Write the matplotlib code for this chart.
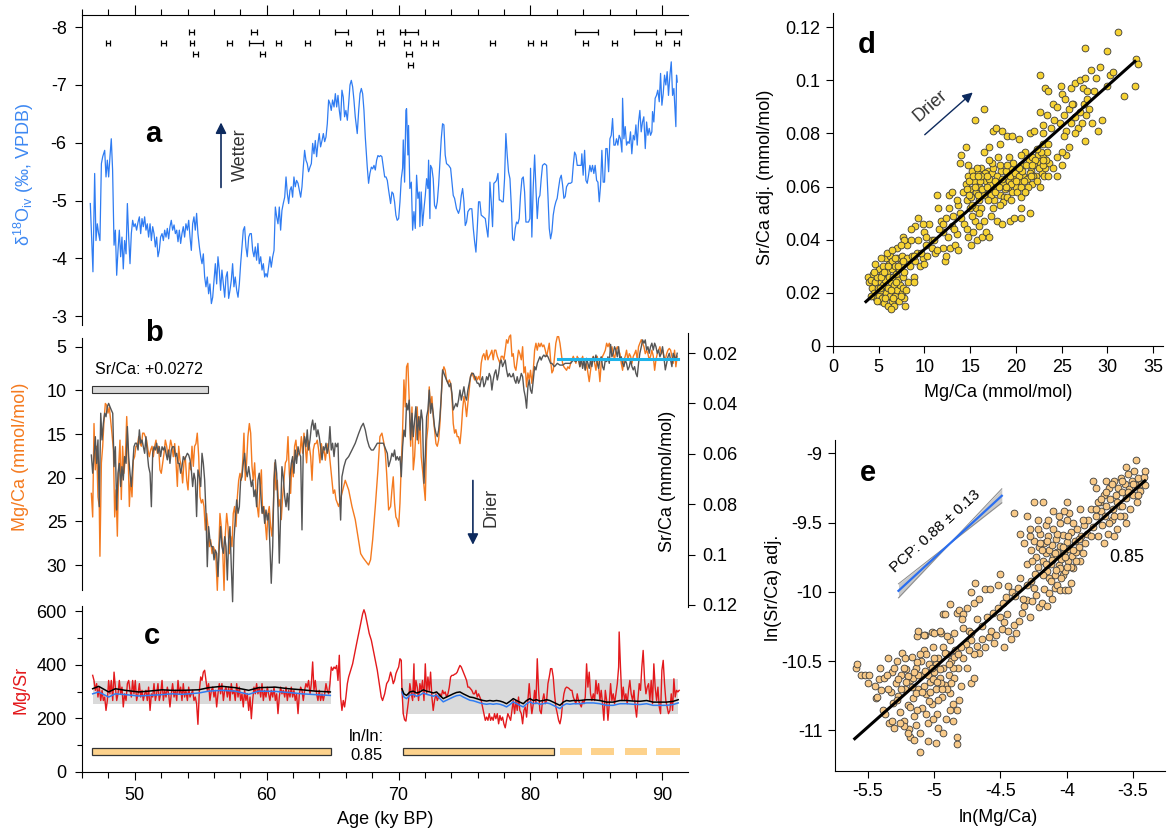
import numpy as np
import matplotlib
matplotlib.use("Agg")
import matplotlib.pyplot as plt
from matplotlib.patches import Rectangle
from matplotlib.ticker import MultipleLocator, FuncFormatter

plt.rcParams['font.family'] = ['Liberation Sans', 'DejaVu Sans']
plt.rcParams['axes.unicode_minus'] = False
plt.rcParams['mathtext.fontset'] = 'custom'
plt.rcParams['mathtext.rm'] = 'Liberation Sans'
plt.rcParams['mathtext.it'] = 'Liberation Sans:italic'
plt.rcParams['mathtext.bf'] = 'Liberation Sans:bold'

# ---------------- data ----------------
# (a) speleothem d18O record: (age ky BP, permil VPDB)
d18o_record = [
    (46.63, -4.95), (46.83, -3.77), (46.96, -5.47), (47.06, -4.31), (47.16, -4.60), (47.26, -4.43), (47.36, -4.31), (47.47, -5.64), (47.57, -5.76), (47.72, -5.87),
    (47.82, -5.41), (47.92, -5.70), (48.02, -5.41), (48.12, -5.76), (48.22, -6.07), (48.32, -5.53), (48.43, -4.23), (48.53, -4.49), (48.63, -3.71), (48.73, -4.14),
    (48.83, -4.49), (48.93, -4.03), (49.03, -4.37), (49.13, -3.82), (49.23, -4.31), (49.34, -4.08), (49.44, -4.95), (49.54, -4.37), (49.64, -3.91), (49.74, -4.43),
    (49.84, -4.66), (49.94, -4.55), (50.04, -4.60), (50.14, -4.49), (50.25, -4.63), (50.35, -4.72), (50.45, -4.43), (50.55, -4.69), (50.65, -4.55), (50.75, -4.72),
    (50.85, -4.49), (50.95, -4.60), (51.05, -4.37), (51.16, -4.60), (51.26, -4.31), (51.36, -4.55), (51.46, -4.43), (51.56, -4.20), (51.66, -4.37), (51.76, -4.03),
    (51.86, -4.14), (51.96, -4.37), (52.07, -4.43), (52.17, -4.31), (52.27, -4.49), (52.37, -4.37), (52.47, -4.52), (52.57, -4.34), (52.67, -4.55), (52.77, -4.66),
    (52.87, -4.49), (52.98, -4.58), (53.08, -4.43), (53.18, -4.49), (53.28, -4.29), (53.38, -4.49), (53.48, -4.26), (53.58, -4.43), (53.68, -4.55), (53.78, -4.37),
    (53.88, -4.60), (53.99, -4.49), (54.09, -4.66), (54.19, -4.37), (54.29, -4.14), (54.39, -4.60), (54.49, -4.72), (54.59, -4.49), (54.69, -4.78), (54.79, -4.43),
    (54.90, -4.20), (55.00, -4.03), (55.10, -3.91), (55.20, -4.08), (55.30, -3.68), (55.40, -3.51), (55.50, -3.68), (55.60, -3.39), (55.70, -3.56), (55.81, -3.22),
    (55.91, -3.33), (56.01, -3.62), (56.11, -3.91), (56.21, -3.56), (56.31, -4.03), (56.41, -3.80), (56.51, -3.45), (56.61, -3.80), (56.72, -3.56), (56.82, -3.33),
    (56.92, -3.68), (57.02, -3.77), (57.12, -3.31), (57.22, -3.45), (57.32, -3.62), (57.42, -3.91), (57.52, -3.51), (57.62, -3.68), (57.73, -3.45), (57.83, -3.33),
    (57.93, -3.56), (58.03, -3.91), (58.13, -4.20), (58.23, -4.49), (58.33, -4.55), (58.43, -4.20), (58.53, -4.03), (58.64, -4.37), (58.74, -4.43), (58.84, -4.43),
    (58.94, -4.14), (59.04, -4.03), (59.14, -4.20), (59.24, -3.97), (59.34, -4.26), (59.44, -3.91), (59.55, -4.03), (59.65, -3.80), (59.75, -3.91), (59.85, -3.68),
    (59.95, -3.74), (60.05, -3.68), (60.15, -3.85), (60.25, -4.03), (60.35, -3.85), (60.46, -4.03), (60.56, -4.14), (60.66, -4.89), (60.76, -4.72), (60.86, -4.60),
    (60.96, -4.89), (61.06, -4.49), (61.16, -4.83), (61.26, -4.95), (61.37, -5.06), (61.47, -5.41), (61.57, -5.12), (61.67, -4.95), (61.77, -5.18), (61.87, -5.24),
    (61.97, -5.06), (62.07, -5.41), (62.17, -5.24), (62.27, -5.35), (62.38, -5.30), (62.48, -5.18), (62.58, -5.06), (62.68, -5.24), (62.78, -5.58), (62.88, -5.87),
    (62.98, -5.70), (63.08, -5.64), (63.18, -5.50), (63.29, -5.58), (63.39, -5.64), (63.49, -5.99), (63.59, -5.81), (63.69, -6.04), (63.79, -5.76), (63.89, -5.99),
    (63.99, -6.16), (64.09, -5.93), (64.20, -6.04), (64.30, -6.16), (64.40, -6.02), (64.50, -6.10), (64.60, -6.33), (64.70, -6.74), (64.80, -6.68), (64.90, -6.56),
    (65.00, -6.74), (65.11, -6.62), (65.21, -6.85), (65.31, -6.62), (65.41, -6.82), (65.51, -6.56), (65.61, -6.39), (65.71, -6.91), (65.81, -6.79), (65.91, -6.45),
    (66.01, -6.56), (66.12, -6.39), (66.22, -6.68), (66.32, -7.00), (66.42, -7.08), (66.52, -6.97), (66.62, -6.74), (66.72, -6.45), (66.87, -6.16), (66.98, -6.56),
    (67.08, -6.85), (67.18, -6.94), (67.28, -6.85), (67.38, -6.56), (67.48, -6.10), (67.63, -5.58), (67.73, -5.30), (67.83, -5.47), (67.94, -5.58), (68.04, -5.55),
    (68.14, -5.61), (68.24, -5.53), (68.34, -5.70), (68.44, -5.78), (68.54, -5.76), (68.64, -5.78), (68.74, -5.76), (68.85, -5.58), (68.95, -5.41), (69.05, -5.41),
    (69.15, -5.35), (69.25, -5.18), (69.40, -4.95), (69.50, -5.15), (69.60, -5.12), (69.70, -4.98), (69.80, -4.75), (69.90, -4.66), (70.01, -4.69), (70.11, -4.98),
    (70.21, -5.38), (70.31, -5.56), (70.36, -6.05), (70.46, -5.32), (70.56, -6.56), (70.61, -6.59), (70.71, -5.79), (70.76, -6.30), (70.86, -5.21), (70.97, -5.32),
    (71.07, -4.49), (71.17, -4.81), (71.27, -4.52), (71.37, -5.44), (71.47, -5.04), (71.57, -5.15), (71.62, -4.55), (71.72, -5.15), (71.82, -4.57), (71.93, -4.86),
    (72.03, -5.09), (72.13, -5.38), (72.23, -5.21), (72.28, -5.70), (72.38, -4.69), (72.43, -5.61), (72.53, -5.56), (72.63, -5.38), (72.73, -4.92), (72.84, -4.86),
    (72.94, -4.98), (73.04, -5.27), (73.14, -5.67), (73.24, -6.07), (73.34, -6.33), (73.44, -6.31), (73.54, -5.79), (73.64, -5.64), (73.80, -5.61), (73.95, -5.56),
    (74.05, -5.32), (74.15, -5.09), (74.25, -5.04), (74.40, -4.86), (74.55, -4.78), (74.65, -4.86), (74.76, -5.09), (74.86, -5.21), (74.96, -4.98), (75.06, -4.57),
    (75.16, -4.63), (75.26, -4.81), (75.41, -4.86), (75.56, -4.86), (75.67, -4.52), (75.77, -4.29), (75.87, -4.11), (75.97, -4.52), (76.07, -4.98), (76.17, -4.98),
    (76.27, -4.75), (76.42, -4.72), (76.58, -4.69), (76.68, -4.52), (76.78, -4.37), (76.88, -4.81), (76.93, -5.32), (77.03, -4.98), (77.13, -4.55), (77.23, -5.30),
    (77.33, -5.32), (77.43, -5.35), (77.54, -5.47), (77.64, -5.01), (77.74, -5.01), (77.84, -4.98), (77.94, -4.98), (78.04, -5.38), (78.14, -6.16), (78.24, -5.79),
    (78.34, -5.50), (78.45, -5.38), (78.55, -4.92), (78.65, -4.34), (78.75, -4.31), (78.85, -4.52), (78.95, -4.63), (79.05, -4.60), (79.15, -4.69), (79.25, -5.09),
    (79.36, -5.38), (79.46, -5.41), (79.56, -5.15), (79.66, -4.63), (79.76, -4.63), (79.86, -4.63), (79.96, -4.69), (80.01, -5.56), (80.11, -4.37), (80.21, -5.21),
    (80.32, -5.79), (80.42, -5.21), (80.52, -4.69), (80.62, -5.04), (80.72, -5.09), (80.82, -5.38), (80.92, -5.61), (81.07, -5.64), (81.23, -5.61), (81.33, -5.09),
    (81.43, -4.52), (81.53, -4.34), (81.63, -4.46), (81.73, -4.75), (81.83, -4.89), (81.93, -4.98), (82.03, -5.04), (82.13, -5.21), (82.24, -5.38), (82.34, -5.44),
    (82.44, -5.27), (82.54, -5.04), (82.64, -5.07), (82.74, -5.24), (82.89, -5.30), (83.04, -5.30), (83.15, -5.32), (83.25, -5.61), (83.35, -5.84), (83.45, -5.79),
    (83.55, -5.61), (83.65, -5.61), (83.75, -5.61), (83.85, -5.61), (83.90, -5.81), (84.00, -5.44), (84.11, -5.87), (84.21, -5.35), (84.31, -5.30), (84.41, -5.44),
    (84.51, -5.61), (84.61, -5.50), (84.71, -5.61), (84.81, -5.47), (84.91, -5.61), (85.02, -5.35), (85.12, -5.32), (85.22, -4.98), (85.32, -5.27), (85.42, -5.87),
    (85.52, -5.32), (85.62, -5.32), (85.72, -5.90), (85.82, -5.90), (85.93, -5.50), (86.03, -6.07), (86.13, -6.13), (86.23, -6.42), (86.33, -5.96), (86.43, -5.96),
    (86.53, -6.07), (86.63, -5.96), (86.73, -6.13), (86.83, -6.07), (86.94, -5.84), (86.99, -6.77), (87.09, -6.07), (87.19, -6.28), (87.29, -5.96), (87.39, -6.02),
    (87.49, -5.99), (87.59, -6.19), (87.69, -5.81), (87.80, -6.13), (87.90, -6.05), (88.00, -6.31), (88.10, -5.96), (88.20, -6.36), (88.30, -6.56), (88.40, -6.19),
    (88.50, -6.36), (88.60, -6.45), (88.71, -5.90), (88.81, -6.36), (88.91, -6.13), (89.01, -6.25), (89.11, -6.13), (89.21, -6.19), (89.26, -6.54), (89.36, -6.36),
    (89.46, -6.77), (89.56, -6.82), (89.66, -6.91), (89.77, -6.71), (89.87, -7.20), (89.97, -6.65), (90.07, -6.85), (90.17, -7.17), (90.27, -7.00), (90.37, -7.23),
    (90.47, -6.82), (90.58, -7.17), (90.68, -7.40), (90.78, -6.82), (90.88, -6.94), (90.98, -6.48), (91.03, -6.28), (91.08, -7.17), (91.13, -7.05),
]

# (a) U-Th age controls: rows of (age, 2-sigma error)
agectl_row_level = [-7.91, -7.72, -7.53, -7.34]
agectl_row1 = [(54.3, 0.2), (59.05, 0.2), (65.65, 0.5), (68.6, 0.2), (70.3, 0.2), (71.0, 0.5), (84.25, 0.85), (88.7, 0.85), (90.8, 0.6)]
agectl_row2 = [(48.0, 0.15), (52.2, 0.2), (54.35, 0.15), (57.2, 0.2), (59.2, 0.5), (60.9, 0.2), (63.1, 0.2), (66.2, 0.2), (68.7, 0.2), (70.65, 0.2),
               (71.9, 0.2), (72.8, 0.2), (77.1, 0.2), (80.0, 0.2), (81.0, 0.2), (84.2, 0.2), (86.4, 0.2), (89.7, 0.2), (91.1, 0.2)]
agectl_row3 = [(54.6, 0.2), (59.7, 0.2), (70.8, 0.2)]
agectl_row4 = [(70.9, 0.2)]

# (b) Mg/Ca (mmol/mol)
mgca_record = [
    (46.71, 21.8), (46.81, 24.5), (46.91, 13.8), (47.01, 19.1), (47.11, 16.4), (47.21, 22.2), (47.31, 23.3), (47.36, 29.0), (47.47, 18.3), (47.57, 16.4),
    (47.67, 13.4), (47.77, 11.5), (47.87, 11.7), (47.97, 12.6), (48.07, 11.9), (48.17, 13.4), (48.27, 14.9), (48.38, 16.8), (48.48, 24.5), (48.58, 21.4),
    (48.68, 26.7), (48.78, 18.7), (48.88, 15.7), (48.98, 22.5), (49.08, 16.4), (49.18, 19.5), (49.29, 17.6), (49.39, 13.0), (49.49, 16.8), (49.59, 23.3),
    (49.69, 19.9), (49.79, 22.2), (49.89, 18.0), (49.99, 17.6), (50.09, 16.4), (50.19, 16.4), (50.30, 15.3), (50.40, 16.1), (50.50, 16.4), (50.60, 14.9),
    (50.70, 14.9), (50.80, 15.3), (50.90, 15.7), (51.00, 16.8), (51.10, 17.6), (51.21, 16.8), (51.31, 16.4), (51.41, 17.6), (51.51, 16.4), (51.61, 15.7),
    (51.71, 17.2), (51.81, 16.4), (51.91, 19.1), (52.01, 19.5), (52.12, 18.3), (52.22, 17.2), (52.32, 15.7), (52.42, 16.4), (52.52, 17.6), (52.62, 16.8),
    (52.72, 15.7), (52.82, 16.4), (52.92, 17.6), (53.03, 16.1), (53.13, 18.3), (53.23, 21.0), (53.33, 16.4), (53.43, 18.0), (53.53, 18.7), (53.63, 20.6),
    (53.73, 18.3), (53.83, 17.6), (53.94, 20.3), (54.04, 21.4), (54.14, 18.3), (54.24, 19.1), (54.34, 16.4), (54.44, 18.7), (54.54, 16.4), (54.64, 16.1),
    (54.74, 14.9), (54.85, 17.6), (54.95, 22.2), (55.05, 22.9), (55.15, 22.5), (55.25, 23.3), (55.35, 26.0), (55.45, 24.1), (55.55, 25.6), (55.65, 27.9),
    (55.75, 27.1), (55.86, 28.7), (55.96, 27.9), (56.06, 28.3), (56.16, 29.4), (56.26, 32.9), (56.36, 28.7), (56.46, 24.1), (56.56, 25.6), (56.66, 27.9),
    (56.77, 32.9), (56.87, 26.4), (56.97, 24.1), (57.07, 25.6), (57.17, 28.7), (57.27, 26.7), (57.37, 27.9), (57.47, 24.1), (57.57, 23.3), (57.68, 25.6),
    (57.78, 22.2), (57.88, 20.3), (57.98, 19.5), (58.08, 20.3), (58.18, 18.3), (58.28, 14.9), (58.38, 20.3), (58.48, 18.3), (58.58, 15.3), (58.69, 13.8),
    (58.79, 14.9), (58.89, 18.7), (58.99, 20.3), (59.09, 18.3), (59.19, 21.4), (59.29, 23.3), (59.39, 24.5), (59.49, 21.4), (59.60, 19.1), (59.70, 24.1),
    (59.80, 23.3), (59.90, 25.2), (60.00, 27.1), (60.10, 24.1), (60.20, 23.3), (60.30, 25.6), (60.40, 26.7), (60.51, 23.3), (60.61, 18.3), (60.71, 21.4),
    (60.81, 20.3), (60.91, 23.3), (61.01, 22.5), (61.11, 24.8), (61.21, 22.2), (61.31, 20.3), (61.42, 18.3), (61.52, 18.0), (61.62, 15.3), (61.72, 19.5),
    (61.82, 21.8), (61.92, 18.0), (62.02, 19.9), (62.12, 16.4), (62.22, 15.7), (62.33, 17.6), (62.43, 17.2), (62.53, 17.2), (62.63, 15.3), (62.73, 17.2),
    (62.83, 14.9), (62.93, 16.4), (63.03, 18.3), (63.13, 15.7), (63.24, 16.4), (63.34, 17.6), (63.44, 20.3), (63.54, 16.8), (63.64, 16.1), (63.74, 16.1),
    (63.84, 15.7), (63.94, 16.8), (64.04, 18.3), (64.15, 16.1), (64.25, 17.2), (64.35, 16.8), (64.45, 18.0), (64.55, 16.8), (64.65, 16.1), (64.75, 17.2),
    (64.85, 18.7), (64.95, 20.3), (65.05, 21.8), (65.16, 21.4), (65.26, 22.5), (65.36, 22.9), (65.46, 23.3), (65.71, 21.8), (65.96, 20.3), (66.22, 21.4),
    (66.47, 23.3), (66.72, 24.8), (66.92, 26.7), (67.13, 28.7), (67.33, 29.2), (67.53, 29.6), (67.73, 30.0), (67.88, 29.4), (68.04, 27.1), (68.24, 23.3),
    (68.44, 19.1), (68.59, 15.3), (68.74, 14.9), (68.90, 16.1), (69.00, 17.2), (69.10, 19.5), (69.25, 23.7), (69.40, 23.3), (69.50, 21.4), (69.60, 19.9),
    (69.70, 22.9), (69.80, 24.5), (69.90, 24.8), (70.01, 25.6), (70.11, 22.9), (70.21, 18.4), (70.31, 14.5), (70.41, 8.8), (70.51, 11.9), (70.61, 7.3),
    (70.71, 6.9), (70.81, 11.1), (70.92, 16.4), (71.02, 11.9), (71.12, 19.1), (71.22, 17.6), (71.32, 14.5), (71.42, 11.9), (71.52, 16.1), (71.62, 13.0),
    (71.72, 17.6), (71.82, 19.1), (71.93, 21.0), (72.03, 22.6), (72.13, 15.7), (72.23, 14.2), (72.33, 9.6), (72.43, 11.9), (72.53, 10.7), (72.63, 13.0),
    (72.73, 14.5), (72.84, 16.1), (72.94, 16.4), (73.04, 15.7), (73.14, 13.8), (73.24, 10.7), (73.34, 8.0), (73.44, 7.3), (73.54, 7.7), (73.64, 8.8),
    (73.75, 9.2), (73.85, 8.8), (73.95, 9.2), (74.05, 10.7), (74.15, 13.8), (74.25, 14.9), (74.35, 14.5), (74.45, 15.3), (74.55, 15.3), (74.66, 16.1),
    (74.76, 14.5), (74.86, 12.2), (74.96, 10.7), (75.06, 11.5), (75.16, 13.0), (75.26, 11.5), (75.36, 10.0), (75.46, 8.4), (75.56, 8.0), (75.67, 8.4),
    (75.77, 8.8), (75.87, 8.4), (75.97, 8.8), (76.07, 8.4), (76.17, 8.8), (76.27, 6.9), (76.37, 6.1), (76.47, 5.8), (76.58, 6.5), (76.68, 5.4),
    (76.78, 6.5), (76.88, 6.1), (76.98, 5.8), (77.08, 5.4), (77.18, 6.5), (77.28, 5.4), (77.38, 5.4), (77.49, 6.1), (77.59, 6.5), (77.69, 6.9),
    (77.79, 6.1), (77.89, 6.1), (77.99, 6.5), (78.09, 5.4), (78.19, 4.2), (78.29, 4.6), (78.40, 3.85), (78.50, 3.66), (78.60, 6.1), (78.70, 5.8),
    (78.80, 7.3), (78.90, 7.7), (79.00, 6.5), (79.10, 5.4), (79.20, 5.8), (79.31, 6.5), (79.41, 5.0), (79.51, 8.0), (79.61, 7.3), (79.71, 9.6),
    (79.81, 8.0), (79.91, 8.8), (80.01, 7.7), (80.11, 9.2), (80.22, 7.7), (80.32, 5.4), (80.42, 4.6), (80.52, 5.4), (80.62, 4.6), (80.72, 5.0),
    (80.82, 4.6), (80.92, 5.0), (81.02, 4.8), (81.13, 5.4), (81.23, 6.1), (81.33, 5.4), (81.43, 4.6), (81.53, 6.5), (81.63, 8.0), (81.73, 7.7),
    (81.83, 6.1), (81.93, 4.6), (82.04, 3.85), (82.14, 3.85), (82.24, 4.6), (82.34, 5.8), (82.44, 6.9), (82.54, 7.3), (82.64, 7.5), (82.74, 7.7),
    (82.84, 7.3), (82.95, 7.5), (83.05, 6.9), (83.15, 6.5), (83.25, 6.1), (83.35, 6.5), (83.45, 6.9), (83.55, 6.1), (83.65, 6.5), (83.75, 7.3),
    (83.86, 6.9), (83.96, 6.1), (84.06, 6.9), (84.16, 7.7), (84.26, 6.9), (84.36, 8.0), (84.46, 9.0), (84.56, 7.7), (84.66, 6.5), (84.77, 6.1),
    (84.87, 6.9), (84.97, 7.7), (85.07, 6.1), (85.17, 7.3), (85.27, 9.0), (85.37, 6.9), (85.47, 6.1), (85.57, 5.8), (85.68, 5.4), (85.78, 4.6),
    (85.88, 5.0), (85.98, 4.6), (86.08, 5.4), (86.18, 5.0), (86.28, 5.8), (86.38, 6.5), (86.48, 5.4), (86.59, 5.0), (86.69, 5.4), (86.79, 5.8),
    (86.89, 6.9), (86.99, 7.7), (87.09, 6.5), (87.19, 6.1), (87.29, 5.4), (87.39, 6.5), (87.50, 5.8), (87.60, 6.1), (87.70, 6.9), (87.80, 6.1),
    (87.90, 5.8), (88.00, 5.4), (88.10, 6.5), (88.20, 5.0), (88.30, 4.6), (88.41, 4.2), (88.51, 4.6), (88.61, 5.0), (88.71, 5.8), (88.81, 5.4),
    (88.91, 5.8), (89.01, 6.5), (89.11, 6.1), (89.21, 5.4), (89.32, 6.1), (89.42, 7.7), (89.52, 6.5), (89.62, 5.8), (89.72, 5.4), (89.82, 5.0),
    (89.92, 5.8), (90.02, 5.4), (90.12, 6.1), (90.23, 6.5), (90.33, 5.8), (90.43, 5.4), (90.53, 5.2), (90.63, 5.4), (90.73, 6.1), (90.83, 6.9),
    (90.93, 5.4), (91.03, 7.3), (91.13, 6.1),
]

# (b) Sr/Ca (mmol/mol)
srca_record = [
    (46.71, .0605), (46.81, .0677), (46.91, .0611), (47.01, .0532), (47.11, .0638), (47.21, .0545), (47.31, .0810), (47.42, .0439), (47.52, .0545), (47.62, .0479),
    (47.72, .0439), (47.82, .0453), (47.92, .0413), (48.02, .0400), (48.12, .0413), (48.22, .0426), (48.33, .0439), (48.43, .0651), (48.53, .0572), (48.63, .0823),
    (48.73, .0677), (48.83, .0638), (48.93, .0730), (49.03, .0651), (49.13, .0704), (49.23, .0611), (49.34, .0638), (49.44, .0492), (49.54, .0611), (49.64, .0677),
    (49.74, .0730), (49.84, .0651), (49.94, .0572), (50.04, .0558), (50.14, .0558), (50.25, .0585), (50.35, .0505), (50.45, .0558), (50.55, .0545), (50.65, .0572),
    (50.75, .0598), (50.85, .0532), (50.95, .0598), (51.05, .0651), (51.16, .0677), (51.26, .0810), (51.36, .0598), (51.46, .0572), (51.56, .0585), (51.66, .0558),
    (51.76, .0598), (51.86, .0572), (51.96, .0611), (52.07, .0572), (52.17, .0585), (52.27, .0572), (52.37, .0598), (52.47, .0624), (52.57, .0585), (52.67, .0638),
    (52.77, .0585), (52.87, .0572), (52.98, .0572), (53.08, .0611), (53.18, .0598), (53.28, .0638), (53.38, .0638), (53.48, .0677), (53.58, .0651), (53.68, .0611),
    (53.78, .0624), (53.88, .0611), (53.99, .0598), (54.09, .0605), (54.19, .0624), (54.29, .0664), (54.39, .0730), (54.49, .0677), (54.59, .0704), (54.69, .0849),
    (54.79, .0664), (54.90, .0691), (55.00, .0730), (55.10, .0598), (55.20, .0638), (55.30, .0704), (55.40, .0836), (55.50, .1048), (55.60, .0889), (55.70, .0942),
    (55.81, .0968), (55.91, .0968), (56.01, .1021), (56.11, .0982), (56.21, .0995), (56.31, .1087), (56.41, .0968), (56.51, .0889), (56.61, .0968), (56.72, .0995),
    (56.82, .0929), (56.92, .0968), (57.02, .1101), (57.12, .0942), (57.22, .0889), (57.32, .1048), (57.42, .1187), (57.52, .0942), (57.62, .0863), (57.73, .0783),
    (57.83, .0836), (57.93, .0810), (58.03, .0704), (58.13, .0691), (58.23, .0638), (58.33, .0598), (58.43, .0664), (58.53, .0691), (58.64, .0651), (58.74, .0691),
    (58.84, .0730), (58.94, .0704), (59.04, .0770), (59.14, .0743), (59.24, .0810), (59.34, .0704), (59.44, .0677), (59.55, .0757), (59.65, .0836), (59.75, .0810),
    (59.85, .0876), (59.95, .0823), (60.05, .0863), (60.15, .0836), (60.25, .0968), (60.35, .1114), (60.46, .0968), (60.56, .0704), (60.66, .0624), (60.76, .0677),
    (60.86, .0810), (60.96, .1034), (61.06, .0836), (61.16, .0651), (61.26, .0691), (61.37, .0770), (61.47, .0810), (61.57, .0757), (61.67, .0823), (61.77, .0691),
    (61.87, .0638), (61.97, .0611), (62.07, .0677), (62.17, .0585), (62.27, .0638), (62.38, .0572), (62.48, .0598), (62.58, .0611), (62.68, .0902), (62.78, .0572),
    (62.88, .0532), (62.98, .0572), (63.08, .0505), (63.18, .0585), (63.29, .0545), (63.39, .0492), (63.49, .0466), (63.59, .0505), (63.69, .0479), (63.79, .0532),
    (63.89, .0505), (63.99, .0532), (64.09, .0572), (64.20, .0624), (64.30, .0572), (64.40, .0585), (64.50, .0558), (64.60, .0598), (64.70, .0572), (64.80, .0492),
    (64.90, .0585), (65.00, .0558), (65.11, .0611), (65.21, .0558), (65.31, .0572), (65.41, .0558), (65.51, .0743), (65.61, .0863), (65.71, .0691), (65.86, .0651),
    (66.01, .0624), (66.22, .0611), (66.47, .0585), (66.72, .0558), (66.98, .0519), (67.18, .0492), (67.33, .0479), (67.48, .0505), (67.63, .0545), (67.78, .0572),
    (67.94, .0585), (68.09, .0585), (68.24, .0572), (68.39, .0558), (68.54, .0558), (68.69, .0558), (68.85, .0558), (68.95, .0572), (69.05, .0585), (69.15, .0598),
    (69.25, .0651), (69.40, .0624), (69.50, .0598), (69.60, .0611), (69.70, .0585), (69.80, .0625), (69.90, .0611), (70.01, .0625), (70.11, .0611), (70.21, .0691),
    (70.31, .0572), (70.41, .0506), (70.51, .0532), (70.61, .0400), (70.71, .0426), (70.81, .0387), (70.92, .0545), (71.02, .0439), (71.12, .0532), (71.22, .0466),
    (71.32, .0413), (71.42, .0545), (71.52, .0453), (71.62, .0506), (71.72, .0426), (71.82, .0466), (71.93, .0717), (72.03, .0611), (72.13, .0453), (72.23, .0426),
    (72.33, .0347), (72.43, .0439), (72.53, .0400), (72.63, .0439), (72.73, .0492), (72.84, .0519), (72.94, .0532), (73.04, .0506), (73.14, .0453), (73.24, .0373),
    (73.34, .0267), (73.44, .0281), (73.54, .0294), (73.64, .0307), (73.75, .0320), (73.85, .0334), (73.95, .0320), (74.05, .0360), (74.15, .0426), (74.25, .0413),
    (74.35, .0400), (74.45, .0413), (74.55, .0387), (74.66, .0347), (74.76, .0387), (74.86, .0360), (74.96, .0334), (75.06, .0373), (75.16, .0387), (75.26, .0347),
    (75.36, .0320), (75.46, .0294), (75.56, .0281), (75.67, .0281), (75.77, .0294), (75.87, .0307), (75.97, .0320), (76.07, .0320), (76.17, .0334), (76.27, .0307),
    (76.37, .0294), (76.47, .0334), (76.58, .0320), (76.68, .0294), (76.78, .0307), (76.88, .0281), (76.98, .0294), (77.08, .0347), (77.18, .0307), (77.28, .0281),
    (77.38, .0267), (77.49, .0307), (77.59, .0281), (77.69, .0241), (77.79, .0228), (77.89, .0254), (77.99, .0241), (78.09, .0228), (78.19, .0267), (78.29, .0294),
    (78.40, .0281), (78.50, .0294), (78.60, .0294), (78.70, .0281), (78.80, .0307), (78.90, .0320), (79.00, .0294), (79.10, .0320), (79.20, .0307), (79.31, .0281),
    (79.41, .0294), (79.51, .0347), (79.61, .0373), (79.71, .0419), (79.81, .0334), (79.91, .0307), (80.01, .0347), (80.11, .0360), (80.22, .0307), (80.32, .0254),
    (80.42, .0267), (80.52, .0241), (80.62, .0228), (80.72, .0215), (80.82, .0228), (80.92, .0215), (81.02, .0208), (81.13, .0215), (81.23, .0208), (81.33, .0215),
    (81.43, .0228), (81.53, .0241), (81.63, .0241), (81.73, .0248), (81.83, .0254), (81.93, .0248), (82.04, .0241), (82.24, .0248), (82.44, .0248), (82.64, .0241),
    (82.84, .0241), (83.05, .0241), (83.25, .0228), (83.45, .0234), (83.65, .0221), (83.75, .0254), (83.86, .0221), (83.96, .0261), (84.06, .0228), (84.16, .0267),
    (84.26, .0221), (84.36, .0241), (84.46, .0261), (84.56, .0228), (84.66, .0254), (84.77, .0215), (84.87, .0234), (84.97, .0208), (85.07, .0241), (85.17, .0261),
    (85.27, .0228), (85.37, .0215), (85.47, .0254), (85.57, .0267), (85.68, .0228), (85.78, .0234), (85.88, .0215), (85.98, .0241), (86.08, .0166), (86.18, .0215),
    (86.28, .0201), (86.38, .0175), (86.48, .0188), (86.59, .0215), (86.69, .0175), (86.79, .0228), (86.89, .0215), (86.99, .0241), (87.09, .0254), (87.19, .0228),
    (87.29, .0241), (87.39, .0267), (87.50, .0254), (87.60, .0228), (87.70, .0254), (87.80, .0267), (87.90, .0254), (88.00, .0281), (88.10, .0294), (88.20, .0241),
    (88.30, .0201), (88.41, .0175), (88.51, .0148), (88.61, .0161), (88.71, .0148), (88.81, .0188), (88.91, .0175), (89.01, .0201), (89.11, .0175), (89.21, .0161),
    (89.32, .0188), (89.42, .0161), (89.52, .0175), (89.62, .0201), (89.72, .0188), (89.82, .0215), (89.92, .0201), (90.02, .0175), (90.12, .0215), (90.23, .0267),
    (90.33, .0241), (90.43, .0215), (90.53, .0201), (90.63, .0228), (90.73, .0254), (90.83, .0201), (90.93, .0215), (91.03, .0228), (91.13, .0201),
]
srca_mean_age = [82.1, 91.2]
srca_mean = [0.0225, 0.0225]
srca_offset_label = "Sr/Ca: +0.0272"
srca_offset_age = [46.76, 55.56]
srca_offset_mgca = [9.47, 10.27]

# (c) Mg/Sr
mgsr_record = [
    (46.81, 361), (46.91, 342), (47.01, 305), (47.11, 330), (47.21, 280), (47.31, 317), (47.42, 267), (47.52, 305), (47.62, 267), (47.72, 280),
    (47.82, 230), (47.92, 267), (48.02, 342), (48.12, 292), (48.22, 342), (48.33, 267), (48.43, 373), (48.53, 317), (48.63, 267), (48.73, 292),
    (48.83, 342), (48.93, 292), (49.03, 317), (49.13, 243), (49.23, 292), (49.34, 267), (49.44, 330), (49.54, 342), (49.64, 305), (49.74, 280),
    (49.84, 342), (49.94, 292), (50.04, 342), (50.14, 267), (50.25, 292), (50.35, 330), (50.45, 280), (50.55, 305), (50.65, 267), (50.75, 292),
    (50.85, 305), (50.95, 267), (51.05, 317), (51.16, 230), (51.26, 292), (51.36, 280), (51.46, 330), (51.56, 267), (51.66, 292), (51.76, 330),
    (51.86, 267), (51.96, 292), (52.07, 342), (52.17, 267), (52.27, 305), (52.37, 280), (52.47, 317), (52.57, 292), (52.67, 243), (52.77, 292),
    (52.87, 330), (52.98, 280), (53.08, 305), (53.18, 267), (53.28, 342), (53.38, 292), (53.48, 317), (53.58, 267), (53.68, 330), (53.78, 280),
    (53.88, 305), (53.99, 267), (54.09, 317), (54.19, 280), (54.29, 292), (54.39, 305), (54.49, 267), (54.59, 280), (54.69, 255), (54.79, 178),
    (54.90, 305), (55.00, 355), (55.10, 342), (55.20, 373), (55.30, 380), (55.40, 342), (55.50, 305), (55.60, 330), (55.70, 267), (55.81, 305),
    (55.91, 317), (56.01, 280), (56.11, 305), (56.21, 243), (56.31, 292), (56.41, 330), (56.51, 292), (56.61, 330), (56.72, 267), (56.82, 305),
    (56.92, 317), (57.02, 280), (57.12, 317), (57.22, 267), (57.32, 330), (57.42, 292), (57.52, 305), (57.62, 267), (57.73, 330), (57.83, 280),
    (57.93, 317), (58.03, 267), (58.13, 292), (58.23, 243), (58.33, 305), (58.43, 267), (58.53, 292), (58.64, 230), (58.74, 280), (58.84, 199),
    (58.94, 267), (59.04, 317), (59.14, 292), (59.24, 330), (59.34, 292), (59.44, 317), (59.55, 280), (59.65, 330), (59.75, 267), (59.85, 305),
    (59.95, 280), (60.05, 317), (60.15, 292), (60.25, 267), (60.35, 305), (60.46, 280), (60.56, 317), (60.66, 267), (60.76, 292), (60.86, 218),
    (60.96, 280), (61.06, 317), (61.16, 292), (61.26, 305), (61.37, 280), (61.47, 317), (61.57, 267), (61.67, 305), (61.77, 280), (61.87, 317),
    (61.97, 280), (62.07, 305), (62.17, 267), (62.27, 292), (62.38, 218), (62.48, 292), (62.58, 317), (62.68, 305), (62.78, 267), (62.88, 305),
    (62.98, 330), (63.08, 317), (63.18, 342), (63.29, 292), (63.39, 330), (63.49, 411), (63.59, 305), (63.69, 342), (63.79, 292), (63.89, 267),
    (63.99, 305), (64.09, 267), (64.20, 292), (64.30, 267), (64.40, 292), (64.50, 330), (64.60, 305), (64.70, 292), (64.80, 330), (64.90, 392),
    (65.00, 380), (65.11, 392), (65.21, 386), (65.31, 398), (65.41, 342), (65.51, 436), (65.61, 280), (65.71, 230), (65.81, 267), (65.91, 243),
    (66.01, 280), (66.12, 330), (66.22, 355), (66.37, 380), (66.52, 404), (66.67, 442), (66.82, 479), (66.98, 517), (67.13, 554), (67.28, 591),
    (67.38, 606), (67.48, 591), (67.63, 554), (67.78, 517), (67.94, 492), (68.09, 454), (68.24, 417), (68.39, 380), (68.54, 330), (68.69, 280),
    (68.79, 267), (68.95, 292), (69.10, 330), (69.25, 342), (69.40, 373), (69.50, 355), (69.60, 330), (69.70, 342), (69.80, 367), (69.90, 380),
    (70.01, 392), (70.11, 423), (70.21, 417), (70.26, 305), (70.36, 218), (70.46, 195), (70.56, 190), (70.66, 230), (70.76, 267), (70.86, 330),
    (70.97, 292), (71.07, 267), (71.17, 404), (71.22, 280), (71.32, 342), (71.42, 317), (71.52, 267), (71.62, 330), (71.72, 305), (71.82, 342),
    (71.93, 267), (72.03, 404), (72.13, 292), (72.23, 355), (72.33, 305), (72.43, 373), (72.53, 280), (72.63, 230), (72.73, 267), (72.84, 292),
    (72.94, 267), (73.04, 280), (73.14, 292), (73.24, 280), (73.34, 305), (73.44, 292), (73.54, 299), (73.64, 280), (73.75, 292), (73.85, 317),
    (73.95, 355), (74.05, 361), (74.15, 361), (74.25, 365), (74.35, 367), (74.45, 373), (74.55, 386), (74.66, 398), (74.76, 392), (74.86, 380),
    (74.96, 367), (75.06, 355), (75.16, 342), (75.26, 317), (75.36, 317), (75.46, 311), (75.56, 305), (75.67, 292), (75.77, 292), (75.87, 305),
    (75.97, 280), (76.07, 292), (76.17, 280), (76.27, 267), (76.37, 243), (76.47, 218), (76.58, 193), (76.68, 205), (76.78, 193), (76.88, 218),
    (76.98, 193), (77.08, 205), (77.18, 193), (77.28, 218), (77.38, 199), (77.49, 218), (77.59, 180), (77.69, 211), (77.79, 193), (77.89, 205),
    (77.99, 180), (78.09, 165), (78.19, 193), (78.29, 218), (78.40, 205), (78.50, 193), (78.60, 230), (78.70, 267), (78.80, 218), (78.90, 267),
    (79.00, 230), (79.10, 280), (79.20, 230), (79.31, 218), (79.41, 180), (79.51, 230), (79.61, 243), (79.71, 205), (79.81, 267), (79.91, 330),
    (80.01, 267), (80.11, 218), (80.22, 255), (80.32, 305), (80.42, 255), (80.52, 423), (80.62, 305), (80.72, 230), (80.82, 218), (80.92, 267),
    (81.02, 292), (81.13, 255), (81.23, 267), (81.33, 330), (81.43, 355), (81.53, 386), (81.63, 386), (81.73, 355), (81.83, 292), (81.93, 243),
    (82.04, 218), (82.14, 193), (82.24, 180), (82.34, 205), (82.44, 255), (82.54, 292), (82.64, 311), (82.74, 317), (82.84, 315), (82.95, 311),
    (83.05, 305), (83.15, 305), (83.25, 280), (83.35, 267), (83.45, 255), (83.55, 292), (83.65, 267), (83.75, 255), (83.86, 243), (83.96, 267),
    (84.06, 255), (84.16, 280), (84.26, 404), (84.36, 317), (84.46, 373), (84.56, 292), (84.66, 267), (84.77, 292), (84.87, 267), (84.97, 342),
    (85.07, 292), (85.17, 330), (85.27, 267), (85.37, 305), (85.47, 255), (85.57, 193), (85.68, 305), (85.78, 267), (85.88, 193), (85.98, 255),
    (86.08, 330), (86.18, 267), (86.28, 292), (86.38, 255), (86.48, 292), (86.59, 330), (86.69, 392), (86.73, 523), (86.83, 392), (86.94, 267),
    (87.04, 317), (87.14, 267), (87.24, 292), (87.34, 255), (87.44, 305), (87.54, 342), (87.64, 292), (87.75, 267), (87.85, 305), (87.95, 243),
    (88.05, 205), (88.15, 267), (88.25, 330), (88.35, 305), (88.45, 392), (88.55, 454), (88.66, 342), (88.76, 292), (88.86, 317), (88.96, 330),
    (89.06, 267), (89.16, 342), (89.26, 255), (89.36, 404), (89.46, 317), (89.57, 267), (89.67, 317), (89.77, 243), (89.87, 218), (89.97, 380),
    (90.07, 417), (90.17, 330), (90.27, 267), (90.37, 243), (90.47, 218), (90.58, 230), (90.68, 292), (90.78, 230), (90.88, 348), (90.98, 280),
    (91.08, 305), (91.18, 299), (91.28, 305),
]

# (c) modelled Mg/Sr: ln/ln (black) and PCP (blue), two segments
mgsr_model_age1 = [46.81, 47.26, 48.02, 48.53, 49.29, 50.30, 51.05, 52.07, 52.82, 53.58, 54.85, 55.60, 56.61, 57.62, 58.64, 59.39, 60.66, 61.67, 62.68, 63.69, 64.83]
mgsr_lnln1 = [311, 320, 299, 311, 305, 299, 302, 307, 305, 305, 307, 315, 320, 315, 305, 315, 317, 311, 307, 302, 299]
mgsr_pcp1 = [292, 299, 280, 292, 289, 284, 286, 289, 292, 290, 295, 302, 305, 302, 290, 302, 301, 297, 292, 289, 286]
mgsr_model_age2 = [70.26, 70.41, 70.61, 70.86, 71.12, 71.37, 71.62, 71.88, 72.13, 72.38, 72.63, 72.89, 73.14, 73.39, 73.64, 73.90, 74.15, 74.40,
                   74.66, 74.91, 75.16, 75.41, 75.67, 75.92, 76.17, 76.42, 76.68, 76.93, 77.18, 77.43, 77.69, 77.94, 78.19, 78.45, 78.70, 78.95,
                   79.20, 79.46, 79.71, 79.96, 80.22, 80.47, 80.72, 80.97, 81.23, 81.48, 81.73, 81.98, 82.24, 82.49, 82.74, 82.99, 83.25, 83.75,
                   84.26, 84.77, 85.27, 85.78, 86.28, 86.79, 87.29, 87.80, 88.30, 88.81, 89.31, 89.82, 90.32, 90.83, 91.21]
mgsr_lnln2 = [311, 292, 286, 299, 302, 295, 299, 307, 302, 299, 295, 299, 286, 274, 280, 286, 292, 297, 299, 292,
              286, 280, 278, 274, 270, 267, 265, 267, 265, 267, 265, 261, 255, 264, 274, 267, 261, 255, 267, 274,
              267, 270, 265, 267, 270, 267, 261, 255, 249, 261, 267, 265, 267, 267, 270, 270, 267, 261, 261, 267,
              267, 265, 264, 267, 261, 261, 261, 264, 270]
mgsr_pcp2 = [299, 280, 274, 287, 290, 283, 287, 295, 290, 287, 283, 287, 274, 262, 268, 274, 280, 285, 287, 280,
             274, 268, 266, 262, 258, 255, 253, 255, 253, 255, 253, 249, 243, 252, 262, 255, 249, 243, 255, 262,
             255, 258, 253, 255, 258, 255, 249, 243, 237, 249, 255, 253, 255, 255, 258, 258, 255, 249, 249, 255,
             255, 253, 252, 255, 249, 249, 249, 252, 258]
mgsr_band_age = [(46.81, 64.90), (70.26, 91.21)]
mgsr_band_range = [(255, 339), (215, 346)]
lnln_bar_age = [(46.75, 64.85), (70.35, 81.8)]
lnln_bar_dashed_age = [(82.24, 83.95), (84.63, 86.33), (87.14, 88.84), (89.52, 91.33)]
lnln_bar_range = (62, 90)
lnln_slope_label = "0.85"

# (d) Sr/Ca adj. vs Mg/Ca
d_points = [
    (3.8, 0.026), (3.9, 0.024), (4.1, 0.025), (4.3, 0.022), (4.4, 0.027), (4.5, 0.020), (4.6, 0.024), (4.7, 0.018), (4.8, 0.026), (4.9, 0.022),
    (5.0, 0.029), (5.0, 0.019), (5.1, 0.017), (5.2, 0.024), (5.3, 0.021), (5.4, 0.027), (5.4, 0.018), (5.5, 0.030), (5.5, 0.023), (5.6, 0.016),
    (5.7, 0.025), (5.8, 0.020), (5.8, 0.033), (5.9, 0.028), (6.0, 0.015), (6.0, 0.022), (6.1, 0.026), (6.1, 0.031), (6.2, 0.019), (6.2, 0.034),
    (6.3, 0.024), (6.4, 0.017), (6.4, 0.029), (6.5, 0.021), (6.5, 0.032), (6.6, 0.026), (6.7, 0.015), (6.7, 0.023), (6.8, 0.030), (6.8, 0.019),
    (6.9, 0.027), (7.0, 0.033), (7.0, 0.021), (7.1, 0.025), (7.2, 0.017), (7.2, 0.029), (7.3, 0.023), (7.4, 0.031), (7.5, 0.020), (7.5, 0.034),
    (7.6, 0.026), (7.7, 0.022), (7.8, 0.018), (7.8, 0.028), (7.9, 0.015), (8.0, 0.021), (8.1, 0.033), (8.2, 0.024), (8.4, 0.030), (8.6, 0.034),
    (8.8, 0.026), (8.9, 0.024), (9.0, 0.032), (9.2, 0.035), (9.5, 0.030), (9.8, 0.033), (4.6, 0.031), (5.2, 0.033), (5.9, 0.035), (6.3, 0.014),
    (4.2, 0.019), (4.8, 0.017), (5.3, 0.026), (5.6, 0.028), (6.0, 0.030), (6.3, 0.021), (6.6, 0.018), (6.9, 0.024), (7.1, 0.030), (7.4, 0.019),
    (7.6, 0.032), (5.1, 0.022), (4.5, 0.028), (5.7, 0.018), (6.8, 0.033),
    (7.7, 0.041), (8.1, 0.038), (8.5, 0.040), (9.0, 0.045), (9.3, 0.048), (9.9, 0.043), (10.2, 0.038), (10.5, 0.046), (10.8, 0.037), (11.2, 0.035),
    (11.5, 0.052), (11.8, 0.047), (12.0, 0.037), (12.2, 0.032), (12.4, 0.034), (12.6, 0.041), (12.8, 0.037), (13.0, 0.045), (13.1, 0.049), (13.3, 0.038),
    (13.5, 0.042), (13.7, 0.036), (13.9, 0.050), (12.0, 0.043), (11.6, 0.044), (11.4, 0.057), (12.7, 0.057), (13.0, 0.058), (13.7, 0.053), (14.0, 0.048),
    (14.3, 0.046), (14.6, 0.044), (14.8, 0.041), (15.1, 0.038), (15.3, 0.043), (15.5, 0.047), (15.7, 0.040), (16.0, 0.045), (16.3, 0.041), (16.5, 0.047),
    (16.7, 0.043), (17.0, 0.041), (15.6, 0.052), (16.0, 0.055), (15.0, 0.052), (14.7, 0.055), (14.2, 0.058), (14.5, 0.061), (14.8, 0.064), (15.0, 0.059),
    (15.2, 0.066), (15.4, 0.062), (15.6, 0.058), (15.8, 0.065), (16.0, 0.060), (16.2, 0.067), (16.4, 0.063), (16.5, 0.057), (16.7, 0.062), (16.9, 0.066),
    (17.0, 0.058), (17.2, 0.061), (17.4, 0.065), (17.6, 0.055), (17.8, 0.060), (18.0, 0.063), (18.2, 0.057), (18.4, 0.066), (18.6, 0.061), (18.8, 0.059),
    (19.0, 0.064), (19.2, 0.062), (19.4, 0.067), (19.6, 0.058), (19.8, 0.063), (20.0, 0.060), (20.2, 0.066), (20.4, 0.062), (20.6, 0.068), (20.8, 0.064),
    (21.0, 0.058), (21.2, 0.063), (21.4, 0.070), (21.6, 0.066), (21.8, 0.061), (22.0, 0.068), (22.2, 0.064), (22.4, 0.072), (22.6, 0.069), (22.8, 0.065),
    (23.0, 0.071), (23.2, 0.067), (23.4, 0.073), (23.6, 0.069), (24.0, 0.067), (16.2, 0.052), (17.3, 0.049), (17.9, 0.047), (18.5, 0.046), (19.3, 0.047),
    (14.6, 0.059), (14.9, 0.062), (15.1, 0.056), (15.3, 0.064), (15.5, 0.060), (15.7, 0.067), (15.9, 0.057), (16.1, 0.062), (16.3, 0.059), (16.6, 0.065),
    (16.8, 0.060), (17.1, 0.063), (17.3, 0.057), (17.5, 0.067), (17.7, 0.058), (17.9, 0.064), (18.1, 0.060), (18.3, 0.068), (18.5, 0.063), (18.7, 0.056),
    (18.9, 0.066), (19.1, 0.060), (19.3, 0.064), (19.5, 0.061), (19.7, 0.069), (19.9, 0.065), (20.1, 0.058), (20.3, 0.064), (20.5, 0.060), (20.7, 0.066),
    (20.9, 0.062), (21.1, 0.068), (21.3, 0.060), (21.5, 0.065), (21.7, 0.071), (21.9, 0.064), (22.1, 0.070), (22.3, 0.062), (22.5, 0.067), (22.7, 0.073),
    (22.9, 0.068), (23.1, 0.064), (23.3, 0.070), (15.2, 0.053), (16.9, 0.055), (18.6, 0.054), (17.4, 0.069), (16.2, 0.064), (19.0, 0.068), (20.6, 0.056),
    (19.8, 0.048), (20.6, 0.052), (21.5, 0.050), (22.6, 0.060), (24.5, 0.064), (25.0, 0.068), (25.5, 0.072), (25.8, 0.075), (24.8, 0.084), (25.2, 0.087),
    (25.5, 0.081), (25.8, 0.089), (26.0, 0.084), (26.2, 0.091), (26.5, 0.086), (26.8, 0.082), (27.0, 0.088), (27.2, 0.084), (27.4, 0.091), (27.6, 0.087),
    (27.8, 0.093), (28.0, 0.089), (28.3, 0.084), (27.5, 0.077), (24.2, 0.085), (23.8, 0.082), (23.4, 0.087), (23.0, 0.083), (22.6, 0.088), (22.9, 0.076),
    (24.0, 0.091), (24.5, 0.090), (25.0, 0.095), (25.4, 0.093), (26.0, 0.097), (26.5, 0.099), (27.0, 0.100), (27.5, 0.101), (28.2, 0.104), (28.8, 0.101),
    (29.2, 0.105), (27.3, 0.097), (27.8, 0.096), (28.5, 0.096), (29.4, 0.085), (29.0, 0.081), (29.9, 0.098), (30.0, 0.111), (30.3, 0.102), (30.6, 0.103),
    (31.1, 0.118), (31.8, 0.094), (33.0, 0.098), (33.1, 0.108), (33.3, 0.106), (27.5, 0.112), (22.6, 0.102), (23.2, 0.097), (23.5, 0.096), (24.9, 0.098),
    (15.5, 0.085), (16.5, 0.089), (17.5, 0.081), (17.8, 0.082), (18.2, 0.076), (14.5, 0.075), (13.9, 0.069), (14.0, 0.072), (14.8, 0.068), (16.5, 0.073),
    (17.0, 0.070), (17.0, 0.075), (18.5, 0.081), (19.0, 0.079), (19.6, 0.079), (20.3, 0.078), (21.0, 0.073), (21.5, 0.080), (22.0, 0.081), (20.5, 0.072),
    (19.2, 0.071), (18.0, 0.071), (22.3, 0.074), (23.0, 0.080), (23.5, 0.076), (23.5, 0.064), (24.5, 0.071), (25.0, 0.073), (25.3, 0.079), (26.4, 0.080),
    (26.1, 0.091), (20.5, 0.048), (20.3, 0.067), (19.0, 0.056), (18.2, 0.053), (21.0, 0.058), (19.5, 0.055), (17.5, 0.052), (16.0, 0.050), (15.2, 0.049),
    (13.5, 0.055), (12.7, 0.052), (12.0, 0.046), (10.8, 0.040), (10.3, 0.034), (9.6, 0.035), (8.8, 0.034), (10.0, 0.031), (11.0, 0.040), (11.4, 0.036),
    (14.9, 0.057), (15.9, 0.064), (16.8, 0.064), (17.7, 0.062), (18.9, 0.060), (20.0, 0.062), (21.6, 0.064), (22.9, 0.070), (21.8, 0.068), (8.5, 0.044),
    (7.8, 0.040), (9.3, 0.040), (10.2, 0.041), (9.8, 0.046), (12.3, 0.048), (13.2, 0.044), (7.0, 0.037), (6.4, 0.036), (7.4, 0.038),
]
d_fit_mgca = [3.6, 33.0]
d_fit_srca = [0.0167, 0.1071]

# (e) ln(Sr/Ca) adj. vs ln(Mg/Ca)
e_points = [
    (-5.59, -10.55), (-5.58, -10.52), (-5.55, -10.60), (-5.52, -10.60), (-5.50, -10.66), (-5.49, -10.60), (-5.44, -10.77), (-5.43, -10.76), (-5.42, -10.63), (-5.41, -10.55),
    (-5.39, -10.85), (-5.38, -10.62), (-5.37, -10.88), (-5.35, -10.48), (-5.34, -10.95), (-5.33, -10.72), (-5.32, -10.58), (-5.31, -10.80), (-5.30, -10.98), (-5.29, -10.66),
    (-5.28, -10.50), (-5.27, -10.75), (-5.26, -10.87), (-5.25, -10.60), (-5.24, -10.44), (-5.23, -10.93), (-5.22, -10.70), (-5.21, -10.56), (-5.20, -10.82), (-5.19, -10.99),
    (-5.18, -10.64), (-5.17, -10.47), (-5.16, -10.77), (-5.15, -10.90), (-5.14, -10.55), (-5.13, -10.32), (-5.12, -10.70), (-5.11, -11.02), (-5.10, -10.60), (-5.09, -10.84),
    (-5.08, -10.42), (-5.07, -10.31), (-5.06, -10.74), (-5.05, -10.95), (-5.04, -10.52), (-5.03, -10.65), (-5.02, -10.81), (-5.01, -10.40), (-5.00, -10.58), (-4.99, -10.70),
    (-4.98, -10.88), (-4.97, -10.48), (-4.96, -10.62), (-4.95, -10.30), (-4.94, -10.76), (-4.93, -10.55), (-4.92, -10.67), (-4.91, -10.92), (-4.90, -10.45), (-4.89, -10.60),
    (-4.88, -10.73), (-4.87, -10.50), (-4.86, -10.81), (-4.85, -10.62), (-4.84, -10.42), (-4.83, -10.85), (-4.82, -10.55), (-4.81, -10.78), (-4.80, -10.68),
    (-5.30, -10.55), (-5.27, -10.63), (-5.22, -10.48), (-5.18, -10.83), (-5.16, -10.62), (-5.13, -10.85), (-5.10, -10.50), (-5.08, -10.68), (-5.05, -10.60), (-5.03, -10.72),
    (-5.01, -10.63), (-4.99, -10.52), (-4.97, -10.78), (-4.95, -10.66), (-4.93, -10.40), (-4.90, -10.70), (-4.88, -10.35), (-4.86, -10.55), (-5.12, -10.60), (-5.06, -10.45),
    (-5.02, -10.55), (-4.98, -10.65), (-5.14, -10.73), (-5.20, -10.61), (-5.25, -10.70), (-5.35, -10.70), (-5.40, -10.71),
    (-5.28, -10.78), (-5.21, -10.65), (-5.15, -10.58), (-5.11, -10.45), (-5.07, -10.57), (-5.04, -10.79), (-5.00, -10.48), (-4.96, -10.56), (-4.94, -10.70), (-4.92, -10.44),
    (-4.89, -10.52), (-4.87, -10.66), (-4.85, -10.47), (-5.09, -10.72), (-5.13, -10.51), (-5.17, -10.69), (-5.23, -10.55), (-5.36, -10.60), (-5.45, -10.68), (-5.06, -10.88),
    (-5.01, -10.92), (-4.97, -10.98), (-5.14, -10.96),
    (-5.18, -11.05), (-5.15, -11.07), (-5.11, -11.16), (-5.05, -11.08), (-4.99, -11.09), (-4.93, -11.02), (-4.83, -11.05), (-4.83, -11.10), (-5.20, -11.02), (-5.23, -10.97),
    (-5.26, -10.95), (-5.32, -10.93), (-4.86, -10.93), (-4.88, -10.85),
    (-5.12, -10.28), (-5.08, -10.31), (-5.02, -10.29), (-5.00, -10.30), (-4.96, -10.28), (-4.90, -10.32), (-4.85, -10.30), (-4.78, -10.26), (-4.74, -10.28), (-4.72, -10.30),
    (-4.93, -10.16), (-4.92, -10.16), (-4.88, -10.09), (-4.83, -10.15), (-4.81, -10.13), (-4.78, -10.16), (-4.75, -10.12), (-4.72, -10.00), (-4.70, -10.08), (-4.69, -9.94),
    (-4.66, -10.05), (-4.62, -9.98), (-4.60, -10.18), (-4.59, -10.33), (-4.57, -10.28), (-4.55, -10.37), (-4.53, -10.31), (-4.50, -10.18), (-4.49, -10.27), (-4.47, -10.22),
    (-4.45, -10.16), (-4.44, -10.28), (-4.42, -10.34), (-4.40, -10.24), (-4.38, -10.30), (-4.36, -10.21), (-4.34, -10.15), (-4.32, -10.10), (-4.30, -10.06), (-4.28, -10.18),
    (-4.48, -10.08), (-4.46, -10.04), (-4.44, -9.96), (-4.41, -10.00), (-4.39, -10.03), (-4.37, -9.97), (-4.35, -9.90), (-4.33, -10.05), (-4.30, -9.95), (-4.27, -9.92),
    (-4.26, -10.07), (-4.25, -9.97), (-4.23, -10.02), (-4.21, -10.11), (-4.19, -10.08), (-4.17, -9.98), (-4.15, -10.10), (-4.13, -10.01), (-4.11, -10.05), (-4.09, -9.97),
    (-4.07, -9.95), (-4.05, -9.99), (-4.03, -9.88), (-4.01, -9.99), (-3.99, -9.99), (-3.97, -9.94), (-4.62, -10.40), (-4.64, -10.34), (-4.66, -10.44), (-4.68, -10.39),
    (-4.70, -10.45), (-4.72, -10.35), (-4.74, -10.42), (-4.76, -10.38), (-4.78, -10.48), (-4.80, -10.40), (-4.82, -10.45), (-4.75, -10.55), (-4.72, -10.66), (-4.70, -10.62),
    (-4.79, -10.20), (-4.68, -10.20), (-4.64, -10.25), (-4.56, -10.15), (-4.52, -10.12), (-4.58, -9.98), (-4.52, -9.95), (-4.50, -9.87), (-4.47, -10.40),
    (-4.30, -9.80), (-4.27, -9.70), (-4.25, -9.63), (-4.23, -9.75), (-4.21, -9.68), (-4.20, -9.58), (-4.18, -9.78), (-4.17, -9.65), (-4.16, -9.72), (-4.15, -9.85),
    (-4.14, -9.60), (-4.13, -9.70), (-4.12, -9.80), (-4.11, -9.66), (-4.10, -9.75), (-4.09, -9.88), (-4.08, -9.62), (-4.07, -9.71), (-4.06, -9.81), (-4.05, -9.67),
    (-4.04, -9.76), (-4.03, -9.59), (-4.02, -9.72), (-4.01, -9.85), (-4.00, -9.64), (-3.99, -9.78), (-3.98, -9.69), (-3.97, -9.57), (-3.96, -9.74), (-3.95, -9.83),
    (-3.94, -9.63), (-3.93, -9.71), (-3.92, -9.55), (-3.91, -9.68), (-3.90, -9.78), (-3.89, -9.60), (-3.88, -9.72), (-3.87, -9.52), (-3.86, -9.65), (-3.85, -9.58),
    (-4.26, -9.78), (-4.22, -9.82), (-4.19, -9.70), (-4.15, -9.63), (-4.11, -9.77), (-4.07, -9.58), (-4.03, -9.68), (-3.99, -9.60), (-3.95, -9.70), (-3.91, -9.62),
    (-4.13, -9.90), (-4.09, -9.72), (-4.05, -9.83), (-4.01, -9.75), (-3.97, -9.82), (-4.20, -9.65), (-4.16, -9.80), (-3.93, -9.78),
    (-4.18, -9.88), (-4.12, -9.92), (-4.08, -9.84), (-4.04, -9.90), (-4.00, -9.82), (-4.24, -9.87), (-4.28, -9.60), (-4.22, -9.55), (-4.16, -9.52), (-4.10, -9.55),
    (-4.05, -9.50), (-4.00, -9.48), (-3.95, -9.50), (-3.98, -9.43), (-4.02, -9.42), (-4.06, -9.45), (-4.14, -9.48), (-4.22, -9.48), (-4.28, -9.55), (-4.35, -9.58),
    (-4.32, -9.65), (-4.18, -9.35), (-4.10, -9.42), (-4.00, -9.35), (-4.25, -9.35), (-4.30, -9.45), (-4.40, -9.43),
    (-3.84, -9.48), (-3.82, -9.40), (-3.80, -9.53), (-3.78, -9.45), (-3.76, -9.60), (-3.75, -9.35), (-3.74, -9.42), (-3.73, -9.52), (-3.72, -9.30), (-3.71, -9.45),
    (-3.70, -9.38), (-3.69, -9.58), (-3.68, -9.25), (-3.67, -9.33), (-3.66, -9.48), (-3.65, -9.40), (-3.64, -9.20), (-3.63, -9.30), (-3.62, -9.55), (-3.61, -9.25),
    (-3.60, -9.38), (-3.59, -9.18), (-3.58, -9.28), (-3.57, -9.45), (-3.56, -9.22), (-3.55, -9.32), (-3.54, -9.15), (-3.53, -9.26), (-3.52, -9.40), (-3.51, -9.20),
    (-3.50, -9.30), (-3.49, -9.13), (-3.48, -9.23), (-3.47, -9.35), (-3.46, -9.18), (-3.45, -9.27), (-3.44, -9.22), (-3.42, -9.17), (-3.41, -9.13), (-3.41, -9.23),
    (-3.48, -9.05), (-3.55, -9.10), (-3.70, -9.20), (-3.78, -9.25), (-3.80, -9.20), (-3.88, -9.48), (-3.90, -9.40), (-3.82, -9.60), (-3.72, -9.65), (-3.64, -9.60),
    (-3.55, -9.50), (-3.60, -9.45), (-3.68, -9.50), (-3.76, -9.35), (-3.58, -9.20),
    (-3.70, -9.28), (-3.66, -9.22), (-3.62, -9.35), (-3.58, -9.38), (-3.54, -9.28), (-3.50, -9.22), (-3.46, -9.30), (-3.74, -9.33), (-3.78, -9.40), (-3.64, -9.45),
]
e_fit_slope = 0.85
e_fit_center = (-4.505, -10.13)
e_fit_span = (-5.6, -3.41)
pcp_slope = 0.88
pcp_err = 0.13
pcp_center = (-4.88, -9.65)
pcp_span = (-5.27, -4.49)

# ---------------- style ----------------
BLUE = '#2f7cf2'
ORANGE = '#f47a1f'
GREY = '#555555'
RED = '#e3191c'
CYAN = '#1cb4ea'
NAVY = '#0d2a5e'
BAR = '#fdd28c'
AGE_LIM = (46.0, 91.95)
TICK_FS = 13

W, H = 1169, 832
fig = plt.figure(figsize=(W / 100, H / 100), dpi=100)


def frame(l, t, r, b):
    ax = fig.add_axes([l / W, 1 - b / H, (r - l) / W, (b - t) / H])
    ax.patch.set_alpha(0)
    return ax


def ftext(x, y, s, **kw):
    fig.text(x / W, 1 - y / H, s, **kw)


gfmt = FuncFormatter(lambda v, p: f'{v:g}')

# ---------- (a) d18O ----------
ax_a = frame(82, 15, 688, 325)
a_age, a_val = zip(*d18o_record)
ax_a.plot(a_age, a_val, color=BLUE, lw=0.9)
for lvl, row in zip(agectl_row_level, [agectl_row1, agectl_row2, agectl_row3, agectl_row4]):
    ages, errs = zip(*row)
    ax_a.errorbar(ages, [lvl] * len(ages), xerr=errs, fmt='none', ecolor='black',
                  elinewidth=0.9, capsize=2.3, capthick=0.9)
ax_a.set_xlim(*AGE_LIM)
ax_a.set_ylim(-2.85, -8.21)
ax_a.spines[['right', 'bottom']].set_visible(False)
ax_a.xaxis.tick_top()
ax_a.xaxis.set_major_locator(MultipleLocator(10))
ax_a.xaxis.set_minor_locator(MultipleLocator(2))
ax_a.tick_params(axis='x', which='major', length=7, width=0.8, labeltop=False)
ax_a.tick_params(axis='x', which='minor', length=4.5, width=0.8)
ax_a.set_yticks([-8, -7, -6, -5, -4, -3])
ax_a.yaxis.set_major_formatter(gfmt)
ax_a.tick_params(axis='y', length=5, width=0.8, pad=6, labelsize=TICK_FS)
ax_a.annotate('', xy=(56.54, -6.40), xytext=(56.54, -5.18),
              arrowprops=dict(arrowstyle='-|>', color=NAVY, lw=1.2, mutation_scale=16))
ax_a.text(58.0, -5.79, 'Wetter', rotation=90, ha='center', va='center', fontsize=13, color='#333333')

# ---------- (b) Mg/Ca and Sr/Ca ----------
ax_b = frame(82, 333, 688, 607)
b_age, b_val = zip(*mgca_record)
ax_b.plot(b_age, b_val, color=ORANGE, lw=1.0)
ax_b.set_xlim(*AGE_LIM)
ax_b.set_ylim(34.81, 3.43)
ax_b.spines[['top', 'bottom', 'right']].set_visible(False)
ax_b.spines['left'].set_bounds(4.0, 32.9)
ax_b.set_yticks([5, 10, 15, 20, 25, 30])
ax_b.tick_params(axis='x', bottom=False, labelbottom=False)
ax_b.tick_params(axis='y', length=5, width=0.8, pad=6, labelsize=TICK_FS)
ax_b.add_patch(Rectangle((srca_offset_age[0], srca_offset_mgca[0]),
                         srca_offset_age[1] - srca_offset_age[0],
                         srca_offset_mgca[1] - srca_offset_mgca[0],
                         facecolor='#d9d9d9', edgecolor='#333333', lw=0.8))
ax_b.text(47.0, 7.6, srca_offset_label, ha='left', va='center', fontsize=11.5)
ax_b.annotate('', xy=(75.64, 28.0), xytext=(75.64, 20.0),
              arrowprops=dict(arrowstyle='-|>', color=NAVY, lw=1.2, mutation_scale=16))
ax_b.text(77.0, 23.4, 'Drier', rotation=90, ha='center', va='center', fontsize=13, color='#333333')

ax_b2 = ax_b.twinx()
ax_b2.patch.set_alpha(0)
s_age, s_val = zip(*srca_record)
ax_b2.plot(s_age, s_val, color=GREY, lw=1.0)
ax_b2.plot(srca_mean_age, srca_mean, color=CYAN, lw=2.2)
ax_b2.set_ylim(0.1208, 0.01206)
ax_b2.spines[['top', 'bottom', 'left']].set_visible(False)
ax_b2.set_yticks([0.02, 0.04, 0.06, 0.08, 0.10, 0.12])
ax_b2.yaxis.set_major_formatter(gfmt)
ax_b2.tick_params(axis='y', length=5, width=0.8, pad=5, labelsize=TICK_FS)

# ---------- (c) Mg/Sr ----------
ax_c = frame(82, 606, 688, 772)
for (x0, x1), (y0, y1) in zip(mgsr_band_age, mgsr_band_range):
    ax_c.fill_between([x0, x1], [y0, y0], [y1, y1], color='#dadada', lw=0, zorder=1)
c_age, c_val = zip(*mgsr_record)
ax_c.plot(c_age, c_val, color=RED, lw=1.0, zorder=2)
ax_c.plot(mgsr_model_age1, mgsr_pcp1, color=BLUE, lw=1.1, zorder=3)
ax_c.plot(mgsr_model_age2, mgsr_pcp2, color=BLUE, lw=1.1, zorder=3)
ax_c.plot(mgsr_model_age1, mgsr_lnln1, color='black', lw=1.1, zorder=4)
ax_c.plot(mgsr_model_age2, mgsr_lnln2, color='black', lw=1.1, zorder=4)
y0, y1 = lnln_bar_range
for x0, x1 in lnln_bar_age:
    ax_c.add_patch(Rectangle((x0, y0), x1 - x0, y1 - y0, facecolor=BAR, edgecolor='#333333', lw=0.9, zorder=3))
for x0, x1 in lnln_bar_dashed_age:
    ax_c.add_patch(Rectangle((x0, y0), x1 - x0, y1 - y0, facecolor=BAR, edgecolor='none', zorder=3))
ax_c.text(67.6, 133, 'ln/ln:', ha='center', va='center', fontsize=12)
ax_c.text(67.6, 62, lnln_slope_label, ha='center', va='center', fontsize=12)
ax_c.set_xlim(*AGE_LIM)
ax_c.set_ylim(0, 620)
ax_c.spines[['top', 'right']].set_visible(False)
ax_c.set_yticks([0, 200, 400, 600])
ax_c.yaxis.set_minor_locator(MultipleLocator(100))
ax_c.xaxis.set_major_locator(MultipleLocator(10))
ax_c.xaxis.set_minor_locator(MultipleLocator(2))
ax_c.tick_params(axis='y', which='major', length=5, width=0.8, pad=6, labelsize=TICK_FS)
ax_c.tick_params(axis='y', which='minor', length=3.5, width=0.8)
ax_c.tick_params(axis='x', which='major', length=6, width=0.8, pad=5, labelsize=TICK_FS)
ax_c.tick_params(axis='x', which='minor', length=4, width=0.8)

# ---------- (d) Sr/Ca vs Mg/Ca ----------
ax_d = frame(833, 13, 1163, 346)
d_x, d_y = zip(*d_points)
ax_d.scatter(d_x, d_y, s=24, facecolor='#f6d232', edgecolor='#3a3a3a', linewidths=0.6, zorder=2)
ax_d.plot(d_fit_mgca, d_fit_srca, color='black', lw=2.2, zorder=3)
ax_d.set_xlim(0, 36.07)
ax_d.set_ylim(0, 0.1253)
ax_d.spines[['top', 'right']].set_visible(False)
ax_d.set_xticks([0, 5, 10, 15, 20, 25, 30, 35])
ax_d.set_yticks([0, 0.02, 0.04, 0.06, 0.08, 0.10, 0.12])
ax_d.yaxis.set_major_formatter(gfmt)
ax_d.tick_params(length=5, width=0.8, pad=4, labelsize=TICK_FS)
ax_d.annotate('', xy=(15.5, 0.0961), xytext=(9.8, 0.0788),
              arrowprops=dict(arrowstyle='-|>', color=NAVY, lw=1.0, mutation_scale=15))
ax_d.text(10.6, 0.0905, 'Drier', rotation=41, ha='center', va='center', fontsize=13, color='#333333')

# ---------- (e) ln/ln ----------
ax_e = frame(835, 440, 1165, 771)
e_x, e_y = zip(*e_points)
ax_e.scatter(e_x, e_y, s=24, facecolor='#f8c987', edgecolor='#3a3a3a', linewidths=0.6, zorder=2)
fx = np.array(e_fit_span)
ax_e.plot(fx, e_fit_center[1] + e_fit_slope * (fx - e_fit_center[0]), color='black', lw=2.2, zorder=3)
px = np.array([pcp_span[0], pcp_center[0], pcp_span[1]])
dx = px - pcp_center[0]
lo = pcp_center[1] + np.where(dx < 0, (pcp_slope + pcp_err) * dx, (pcp_slope - pcp_err) * dx)
hi = pcp_center[1] + np.where(dx < 0, (pcp_slope - pcp_err) * dx, (pcp_slope + pcp_err) * dx)
ax_e.fill_between(px, lo, hi, color='#c9c9c9', lw=0, zorder=2)
ax_e.plot(px, lo, color='#8a8a8a', lw=0.7, zorder=3)
ax_e.plot(px, hi, color='#8a8a8a', lw=0.7, zorder=3)
ax_e.plot(px, pcp_center[1] + pcp_slope * dx, color='#2a6ef0', lw=1.6, zorder=4)
ax_e.text(-4.99, -9.56, f'PCP: {pcp_slope:.2f} \u00b1 {pcp_err:.2f}', rotation=42,
          ha='center', va='center', fontsize=11)
ax_e.text(-3.545, -9.75, f'{e_fit_slope:.2f}', ha='center', va='center', fontsize=13)
ax_e.set_xlim(-5.749, -3.258)
ax_e.set_ylim(-11.294, -8.904)
ax_e.spines[['top', 'right']].set_visible(False)
ax_e.set_xticks([-5.5, -5, -4.5, -4, -3.5])
ax_e.set_yticks([-11, -10.5, -10, -9.5, -9])
ax_e.xaxis.set_major_formatter(gfmt)
ax_e.yaxis.set_major_formatter(gfmt)
ax_e.tick_params(length=5, width=0.8, pad=4, labelsize=TICK_FS)

# ---------- axis titles & panel letters ----------
ftext(24, 174, '\u03b4$^{18}$O$_{\\mathrm{iv}}$ (\u2030, VPDB)', rotation=90, ha='center', va='center',
      fontsize=13, color='#3d88f2')
ftext(21, 457, 'Mg/Ca (mmol/mol)', rotation=90, ha='center', va='center', fontsize=13, color=ORANGE)
ftext(668, 481, 'Sr/Ca (mmol/mol)', rotation=90, ha='center', va='center', fontsize=13)
ftext(21, 690, 'Mg/Sr', rotation=90, ha='center', va='center', fontsize=13, color=RED)
ftext(385, 820, 'Age (ky BP)', ha='center', va='center', fontsize=13)
ftext(765, 177, 'Sr/Ca adj. (mmol/mol)', rotation=90, ha='center', va='center', fontsize=13)
ftext(998, 393, 'Mg/Ca (mmol/mol)', ha='center', va='center', fontsize=13)
ftext(773, 588, 'ln(Sr/Ca) adj.', rotation=90, ha='center', va='center', fontsize=13)
ftext(998, 818, 'ln(Mg/Ca)', ha='center', va='center', fontsize=13)

for x, y, s in [(153, 134, 'a'), (154, 333, 'b'), (152, 636, 'c'), (867, 45, 'd'), (868, 473, 'e')]:
    ftext(x, y, s, ha='center', va='center', fontsize=21, fontweight='bold')

fig.savefig('out.png', dpi=100)
